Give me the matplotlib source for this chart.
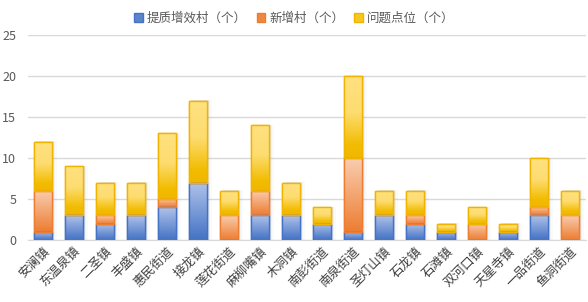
import matplotlib
matplotlib.use("Agg")
import matplotlib.pyplot as plt
import numpy as np
from matplotlib.colors import LinearSegmentedColormap
from matplotlib.patches import Patch

plt.rcParams['font.family'] = ['Noto Sans CJK SC', 'DejaVu Sans']

categories = ['安澜镇', '东温泉镇', '二圣镇', '丰盛镇', '惠民街道', '接龙镇', '莲花街道', '麻柳嘴镇',
              '木洞镇', '南彭街道', '南泉街道', '圣灯山镇', '石龙镇', '石滩镇', '双河口镇', '天星寺镇',
              '一品街道', '鱼洞街道']
quality = [1, 3, 2, 3, 4, 7, 0, 3, 3, 2, 1, 3, 2, 1, 0, 1, 3, 0]
new_vill = [5, 0, 1, 0, 1, 0, 3, 3, 0, 0, 9, 0, 1, 0, 2, 0, 1, 3]
problems = [6, 6, 4, 4, 8, 10, 3, 8, 4, 2, 10, 3, 3, 1, 2, 1, 6, 3]
series_names = ['提质增效村（个）', '新增村（个）', '问题点位（个）']

styles = [
    dict(edge='#4472C4', stops=[(0, '#4472C4'), (1, '#AFC3EA')], legend='#5B84CC'),
    dict(edge='#ED7D31', stops=[(0, '#ED7D31'), (1, '#F9CDB0')], legend='#EE8840'),
    dict(edge='#F0B400', stops=[(0, '#F0B700'), (0.15, '#F2BC00'), (0.55, '#FDDC70'), (1, '#FFE180')],
         legend='#F7C720'),
]

fig = plt.figure(figsize=(5.88, 3.02), dpi=100)
ax = fig.add_axes([0.0468, 0.205, 0.949, 0.679])

x = np.arange(len(categories))
width = 0.58
totals = np.array(quality) + np.array(new_vill) + np.array(problems)

# faint shadow
for dx, a in [(0.05, 0.10), (0.10, 0.07), (0.15, 0.04)]:
    ax.bar(x + dx, totals + 0.05, width, color='#8890A8', alpha=a, linewidth=0, zorder=1.5)

bottoms = np.zeros(len(categories))
for vals, st in zip([quality, new_vill, problems], styles):
    vals = np.array(vals, dtype=float)
    bars = ax.bar(x, vals, width, bottom=bottoms, facecolor='white',
                  edgecolor=st['edge'], linewidth=1.0, zorder=2)
    for b in bars:
        b.set_zorder(1.8)
    edges = ax.bar(x, vals, width, bottom=bottoms, facecolor='none',
                   edgecolor=st['edge'], linewidth=1.0, zorder=3)
    cmap = LinearSegmentedColormap.from_list('g', st['stops'])
    grad = np.linspace(0, 1, 200).reshape(-1, 1)
    for b, v, bt in zip(edges, vals, bottoms):
        if v <= 0:
            continue
        x0 = b.get_x()
        im = ax.imshow(grad, cmap=cmap, aspect='auto', origin='lower',
                       extent=[x0, x0 + width, bt, bt + v], zorder=2,
                       interpolation='bilinear')
        im.set_clip_path(b)
    bottoms += vals

ax.set_xlim(-0.5, len(categories) - 0.5)
ax.set_ylim(0, 25)
ax.set_yticks([0, 5, 10, 15, 20, 25])
ax.yaxis.grid(True, color='#D9D9D9', linewidth=1.0, zorder=0)
ax.set_axisbelow(True)
for s in ['top', 'right', 'left']:
    ax.spines[s].set_visible(False)
ax.spines['bottom'].set_color('#D9D9D9')
ax.tick_params(axis='both', length=0, colors='#595959', labelsize=9)
ax.tick_params(axis='y', pad=8)
ax.set_xticks(x)
ax.set_xticklabels(categories, rotation=45, ha='right', rotation_mode='anchor', color='#404040')

handles = [Patch(facecolor=st['legend'], edgecolor=st['edge']) for st in styles]
fig.legend(handles, series_names, loc='center', bbox_to_anchor=(0.5, 0.94), ncol=3,
           frameon=False, fontsize=9, handlelength=0.7, handleheight=0.7,
           handletextpad=0.3, columnspacing=0.8, labelcolor='#595959')

fig.savefig('out.png', dpi=100)
